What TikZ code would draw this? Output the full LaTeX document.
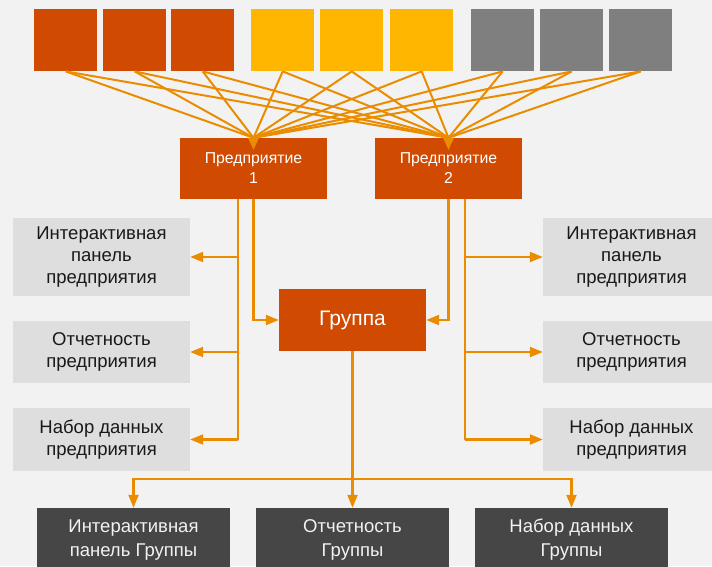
\documentclass[tikz,border=0pt]{standalone}
\usepackage{fontspec}
\setmainfont{Liberation Sans}
\usetikzlibrary{arrows.meta, positioning}

\definecolor{pagebg}{HTML}{F2F2F2}
\definecolor{entorange}{HTML}{D04A02}
\definecolor{srcyellow}{HTML}{FFB600}
\definecolor{srcgray}{HTML}{7F7F7F}
\definecolor{wire}{HTML}{EB8C00}
\definecolor{repgray}{HTML}{DEDEDE}
\definecolor{grpdark}{HTML}{464646}

\begin{document}
\begin{tikzpicture}[x=1pt, y=-1pt,
	src/.style={minimum width=63pt, minimum height=62pt, inner sep=0pt, anchor=north west},
	ent/.style={fill=entorange, text=white, minimum width=147pt, minimum height=61pt, inner sep=0pt, align=center, font=\fontsize{15.8}{20}\selectfont},
	rep/.style={fill=repgray, text=black!90, minimum width=177pt, inner sep=0pt, align=center, font=\fontsize{18.5}{22}\selectfont},
	grprep/.style={fill=grpdark, text=pagebg, minimum width=193pt, minimum height=64pt, inner sep=0pt, align=center, font=\fontsize{18.5}{24}\selectfont},
	feed/.style={draw=wire, line width=2pt},
	link/.style={draw=wire, line width=2.2pt},
	arr/.style={link, -{Triangle[length=13pt, width=10pt]}}
]

\fill [pagebg] (0,0) rectangle (712,566);
\useasboundingbox (0,0) rectangle (712,566);

% sources
\foreach \x/\c/\n in {34/entorange/s1, 103/entorange/s2, 171/entorange/s3,
	251/srcyellow/s4, 320/srcyellow/s5, 390/srcyellow/s6,
	471/srcgray/s7, 540/srcgray/s8, 609/srcgray/s9}
{
	\node [src, fill=\c] (\n) at (\x,9) {};
}

\node [ent] (E1) at (253.5,168.5) {Предприятие\\1};
\node [ent] (E2) at (448.5,168.5) {Предприятие\\2};

\foreach \n in {s1,s2,s3,s4,s5,s6,s7,s8,s9}
{
	\draw [feed] (\n.south) -- (E1.north);
	\draw [feed] (\n.south) -- (E2.north);
}
% merged arrow heads
\foreach \e in {E1,E2}
	\fill [wire] ([xshift=-5.5pt]\e.north) -- ([xshift=5.5pt]\e.north) -- ([yshift=-12pt]\e.north) -- cycle;

\node [ent, minimum height=62pt, font=\fontsize{21}{24}\selectfont] (G) at (352.5,320) {Группа};

% enterprise reports
\node [rep, minimum height=78pt] (L1) at (101.5,257) {Интерактивная\\панель\\предприятия};
\node [rep, minimum height=62pt] (L2) at (101.5,352) {Отчетность\\предприятия};
\node [rep, minimum height=63pt] (L3) at (101.5,439.5) {Набор данных\\предприятия};

\node [rep, minimum height=78pt] (R1) at (631.5,257) {Интерактивная\\панель\\предприятия};
\node [rep, minimum height=62pt] (R2) at (631.5,352) {Отчетность\\предприятия};
\node [rep, minimum height=63pt] (R3) at (631.5,439.5) {Набор данных\\предприятия};

% group reports
\node [grprep] (B1) at (133.5,540) {Интерактивная\\панель Группы};
\node [grprep] (B2) at (352.5,540) {Отчетность\\Группы};
\node [grprep] (B3) at (571.5,540) {Набор данных\\Группы};

\coordinate (b1) at (238,199);
\coordinate (b2) at (465,199);
\coordinate (j) at (352.5,479);

\draw [link] (b1) -- (b1 |- L3.east);
\foreach \n in {L1,L2,L3}
	\draw [arr] (b1 |- \n.east) -- (\n.east);

\draw [link] (b2) -- (b2 |- R3.west);
\foreach \n in {R1,R2,R3}
	\draw [arr] (b2 |- \n.west) -- (\n.west);

\draw [arr] (E1.south) |- (G.west);
\draw [arr] (E2.south) |- (G.east);

\draw [link] (G.south) -- (j);
\draw [arr] (j) -| (B1.north);
\draw [arr] (j) -- (B2.north);
\draw [arr] (j) -| (B3.north);

\end{tikzpicture}
\end{document}
